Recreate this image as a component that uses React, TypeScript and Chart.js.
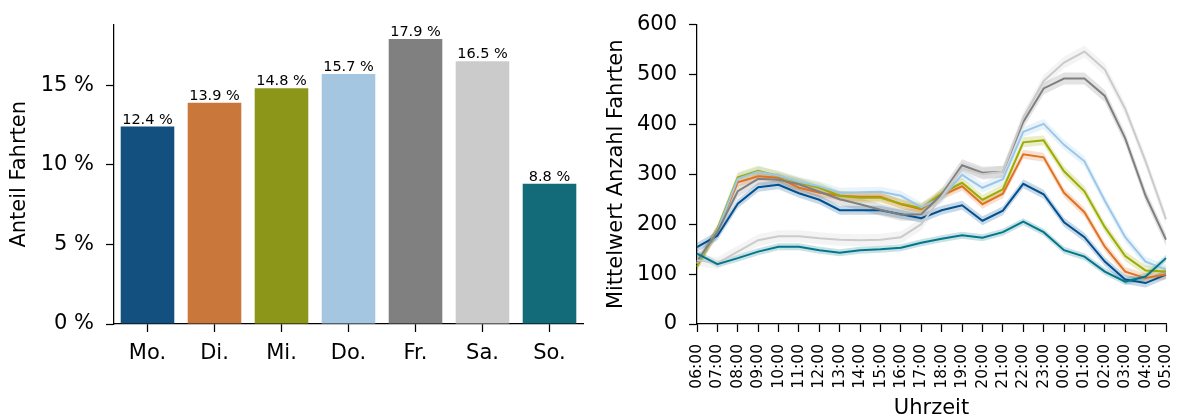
import React, { useEffect, useRef } from "react";
import { Chart, registerables } from "chart.js";

Chart.register(...registerables);

// ---------- Data ----------
const DAYS = ["Mo.", "Di.", "Mi.", "Do.", "Fr.", "Sa.", "So."];
const SHARE_PERCENT = [12.4, 13.9, 14.8, 15.7, 17.9, 16.5, 8.8];
const SHARE_TICKS = [0, 5, 10, 15];
const SHARE_MAX = 18.8;

const HOURS = [
  "06:00", "07:00", "08:00", "09:00", "10:00", "11:00", "12:00", "13:00",
  "14:00", "15:00", "16:00", "17:00", "18:00", "19:00", "20:00", "21:00",
  "22:00", "23:00", "00:00", "01:00", "02:00", "03:00", "04:00", "05:00",
];
const COUNT_TICKS = [0, 100, 200, 300, 400, 500, 600];

const MEAN_MO = [154, 177, 241, 274, 279, 262, 249, 228, 228, 228, 220, 212, 228, 238, 207, 227, 281, 260, 204, 174, 125, 89, 82, 99];
const MEAN_DI = [120, 188, 284, 296, 293, 273, 263, 257, 255, 255, 240, 230, 258, 276, 240, 261, 340, 334, 263, 224, 155, 105, 92, 99];
const MEAN_MI = [115, 190, 294, 307, 296, 283, 273, 257, 253, 253, 241, 232, 262, 283, 249, 270, 364, 368, 306, 266, 194, 136, 107, 105];
const MEAN_DO = [122, 187, 291, 305, 297, 285, 276, 263, 264, 265, 257, 234, 253, 299, 273, 290, 385, 401, 359, 326, 247, 174, 125, 109];
const MEAN_FR = [125, 185, 266, 291, 289, 280, 265, 250, 240, 229, 219, 220, 260, 318, 303, 305, 405, 472, 492, 492, 457, 372, 257, 169];
const MEAN_SA = [128, 122, 145, 168, 176, 176, 172, 169, 168, 169, 174, 200, 255, 312, 300, 305, 414, 487, 524, 546, 510, 431, 326, 210];
const MEAN_SO = [141, 120, 132, 145, 155, 155, 148, 143, 148, 150, 153, 163, 171, 178, 173, 184, 205, 184, 148, 135, 105, 85, 95, 132];

const MEANS = [MEAN_MO, MEAN_DI, MEAN_MI, MEAN_DO, MEAN_FR, MEAN_SA, MEAN_SO];
// half width of the shaded confidence band, per weekday
const CI_HALF_WIDTH = [9, 9, 10, 10, 12, 12, 7];

// ---------- Styles ----------
const BAR_COLORS = ["#134F7F", "#CA773C", "#8C9719", "#A4C6E0", "#808080", "#CBCBCB", "#136B79"];
const LINE_COLORS = ["#015191", "#E17224", "#9DAC04", "#9AC7EA", "#808080", "#CBCBCB", "#02778A"];
const FONT = "'DejaVu Sans', 'Liberation Sans', sans-serif";
const BIG = 21;

function rgba(hex: string, a: number) {
  const n = parseInt(hex.slice(1), 16);
  return `rgba(${(n >> 16) & 255}, ${(n >> 8) & 255}, ${n & 255}, ${a})`;
}

const axisGrid = {
  display: true,
  drawOnChartArea: false,
  drawTicks: true,
  tickLength: 8,
  tickColor: "#000",
  tickWidth: 1.25,
  offset: false,
};
const axisBorder = { display: true, color: "#000", width: 1.25 };

const barValueLabels = {
  id: "barValueLabels",
  afterDatasetsDraw(chart: any) {
    const ctx = chart.ctx;
    const meta = chart.getDatasetMeta(0);
    ctx.save();
    ctx.font = `14.5px ${FONT}`;
    ctx.fillStyle = "#000";
    ctx.textAlign = "center";
    ctx.textBaseline = "alphabetic";
    meta.data.forEach((bar: any, i: number) => {
      ctx.fillText(`${SHARE_PERCENT[i].toFixed(1)} %`, bar.x, bar.y - 3);
    });
    ctx.restore();
  },
};

export default function App() {
  const leftRef = useRef<HTMLCanvasElement>(null);
  const rightRef = useRef<HTMLCanvasElement>(null);

  useEffect(() => {
    Chart.defaults.font.family = FONT;
    Chart.defaults.color = "#000";

    const left = new Chart(leftRef.current!, {
      type: "bar",
      data: {
        labels: DAYS,
        datasets: [
          {
            data: SHARE_PERCENT,
            backgroundColor: BAR_COLORS,
            barPercentage: 0.8,
            categoryPercentage: 1,
          },
        ],
      },
      options: {
        animation: false,
        responsive: false,
        layout: { padding: { top: 21, right: 7, bottom: 0, left: 0 } },
        plugins: { legend: { display: false }, tooltip: { enabled: false } },
        scales: {
          x: {
            type: "category",
            offset: true,
            grid: axisGrid,
            border: axisBorder,
            ticks: { color: "#000", font: { size: BIG }, padding: 9, maxRotation: 0, minRotation: 0 },
            afterFit: (s: any) => {
              s.height = 96;
              s.paddingLeft = 0;
              s.paddingRight = 0;
            },
          },
          y: {
            min: 0,
            max: SHARE_MAX,
            grid: axisGrid,
            border: axisBorder,
            ticks: { color: "#000", font: { size: BIG }, padding: 12, callback: (v: any) => `${v} %` },
            afterBuildTicks: (s: any) => {
              s.ticks = SHARE_TICKS.map((v) => ({ value: v }));
            },
            title: {
              display: true,
              text: "Anteil Fahrten",
              color: "#000",
              font: { size: BIG },
              padding: { top: 7, bottom: 0 },
            },
            afterFit: (s: any) => {
              s.width = 114;
            },
          },
        },
      } as any,
      plugins: [barValueLabels],
    });

    const bandSets: any[] = [];
    MEANS.forEach((vals, i) => {
      bandSets.push({
        data: vals.map((v) => v - CI_HALF_WIDTH[i]),
        borderWidth: 0,
        pointRadius: 0,
        fill: false,
        order: 20,
      });
      bandSets.push({
        data: vals.map((v) => v + CI_HALF_WIDTH[i]),
        borderWidth: 0,
        pointRadius: 0,
        fill: "-1",
        backgroundColor: rgba(LINE_COLORS[i], 0.22),
        order: 20,
      });
    });
    const lineSets = MEANS.map((vals, i) => ({
      label: DAYS[i],
      data: vals,
      borderColor: LINE_COLORS[i],
      borderWidth: 2,
      pointRadius: 0,
      fill: false,
      tension: 0,
      order: 7 - i,
    }));

    const right = new Chart(rightRef.current!, {
      type: "line",
      data: { labels: HOURS, datasets: [...bandSets, ...lineSets] },
      options: {
        animation: false,
        responsive: false,
        layout: { padding: { top: 21, right: 11, bottom: 0, left: 0 } },
        plugins: { legend: { display: false }, tooltip: { enabled: false } },
        scales: {
          x: {
            type: "category",
            offset: false,
            grid: axisGrid,
            border: axisBorder,
            ticks: { color: "#000", font: { size: 15.5 }, padding: 12, autoSkip: false, minRotation: 90, maxRotation: 90 },
            title: {
              display: true,
              text: "Uhrzeit",
              color: "#000",
              font: { size: BIG },
              padding: { top: 0, bottom: -1 },
            },
            afterFit: (s: any) => {
              s.height = 96;
              s.paddingLeft = 0;
              s.paddingRight = 0;
            },
          },
          y: {
            min: 0,
            max: 600,
            grid: axisGrid,
            border: axisBorder,
            ticks: { color: "#000", font: { size: BIG }, padding: 12 },
            afterBuildTicks: (s: any) => {
              s.ticks = COUNT_TICKS.map((v) => ({ value: v }));
            },
            title: {
              display: true,
              text: "Mittelwert Anzahl Fahrten",
              color: "#000",
              font: { size: BIG },
              padding: { top: 14, bottom: 0 },
            },
            afterFit: (s: any) => {
              s.width = 107;
            },
          },
        },
      } as any,
    });

    return () => {
      left.destroy();
      right.destroy();
    };
  }, []);

  return (
    <div style={{ position: "fixed", left: 0, top: 0, width: 1177, height: 420, background: "#fff" }}>
      <canvas ref={leftRef} width={590} height={420} style={{ position: "absolute", left: 0, top: 0 }} />
      <canvas ref={rightRef} width={587} height={420} style={{ position: "absolute", left: 590, top: 0 }} />
    </div>
  );
}
